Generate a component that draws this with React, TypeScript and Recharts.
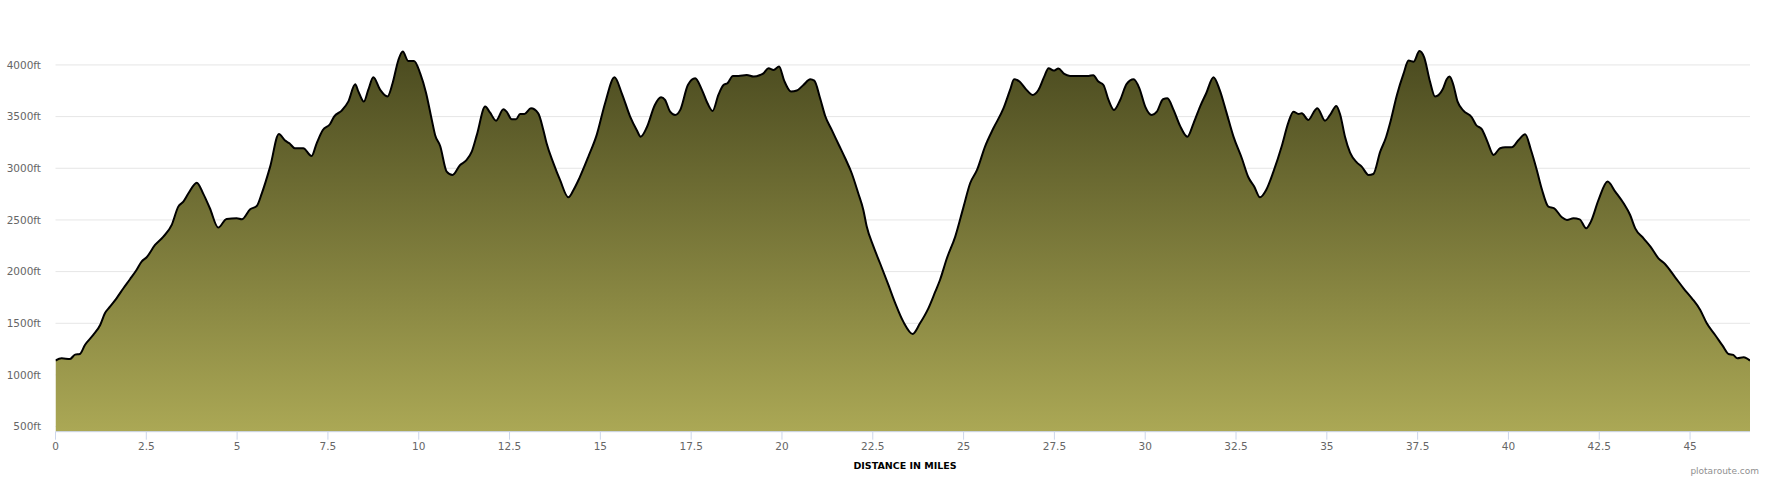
import { Area, AreaChart, CartesianGrid, XAxis, YAxis } from "recharts"

// distance along the route (miles)
const miles = [
  0, 0.17, 0.4, 0.54, 0.67, 0.81, 1.04, 1.23, 1.36, 1.5, 1.68, 1.87, 2.05, 2.23, 2.37, 2.51, 2.74, 2.97,
  3.2, 3.38, 3.52, 3.66, 3.89, 4.07, 4.25, 4.48, 4.71, 4.99, 5.13, 5.36, 5.54, 5.68, 5.91, 6.15, 6.32,
  6.44, 6.59, 6.82, 7.05, 7.19, 7.36, 7.56, 7.67, 7.88, 8.06, 8.25, 8.34, 8.49, 8.61, 8.75, 8.94, 9.14,
  9.28, 9.44, 9.56, 9.71, 9.87, 10.04, 10.2, 10.36, 10.45, 10.59, 10.77, 10.93, 11.14, 11.3, 11.46, 11.6,
  11.83, 11.96, 12.13, 12.33, 12.42, 12.56, 12.68, 12.79, 12.91, 13.09, 13.29, 13.43, 13.52, 13.71,
  13.89, 14.12, 14.26, 14.42, 14.67, 14.9, 15.13, 15.39, 15.59, 15.82, 16.0, 16.11, 16.28, 16.5, 16.67,
  16.78, 16.92, 17.06, 17.2, 17.41, 17.61, 17.79, 17.95, 18.09, 18.25, 18.39, 18.5, 18.65, 18.8, 19.03,
  19.22, 19.4, 19.49, 19.63, 19.77, 19.92, 20.06, 20.25, 20.41, 20.59, 20.78, 20.89, 21.05, 21.19,
  21.37, 21.58, 21.74, 21.92, 22.1, 22.24, 22.33, 22.52, 22.7, 22.93, 23.12, 23.34, 23.6, 23.8, 24.03,
  24.22, 24.35, 24.54, 24.77, 25.0, 25.18, 25.37, 25.59, 25.82, 26.1, 26.28, 26.39, 26.54, 26.72, 26.9,
  27.06, 27.22, 27.34, 27.48, 27.61, 27.77, 27.93, 28.2, 28.44, 28.57, 28.71, 28.85, 28.99, 29.14,
  29.31, 29.49, 29.68, 29.84, 30.0, 30.18, 30.32, 30.49, 30.61, 30.78, 30.96, 31.16, 31.33, 31.51,
  31.68, 31.88, 32.05, 32.23, 32.43, 32.66, 32.84, 33.0, 33.16, 33.33, 33.53, 33.76, 33.94, 34.08,
  34.22, 34.31, 34.49, 34.68, 34.74, 34.95, 35.09, 35.26, 35.37, 35.5, 35.64, 35.83, 35.96, 36.15,
  36.28, 36.47, 36.63, 36.74, 36.93, 37.11, 37.25, 37.39, 37.55, 37.68, 37.84, 37.98, 38.19, 38.3,
  38.38, 38.47, 38.6, 38.76, 38.99, 39.11, 39.27, 39.42, 39.59, 39.77, 39.91, 40.09, 40.28, 40.46,
  40.62, 40.78, 40.92, 41.1, 41.26, 41.47, 41.61, 41.79, 41.96, 42.14, 42.27, 42.48, 42.73, 42.94,
  43.17, 43.35, 43.49, 43.72, 43.91, 44.13, 44.31, 44.59, 44.82, 45.05, 45.28, 45.46, 45.69, 45.9,
  46.06, 46.19, 46.3, 46.47, 46.56, 46.65,
]

// elevation (ft)
const elevation = [
  1140, 1161, 1155, 1197, 1203, 1290, 1387, 1484, 1597, 1661, 1742, 1839, 1926, 2016, 2097, 2139, 2258, 2339,
  2452, 2629, 2677, 2758, 2861, 2752, 2613, 2426, 2510, 2516, 2506, 2603, 2635, 2758, 3016, 3332, 3268,
  3242, 3194, 3194, 3119, 3242, 3371, 3429, 3500, 3558, 3645, 3813, 3742, 3645, 3758, 3881, 3758, 3694,
  3823, 4048, 4129, 4039, 4039, 3919, 3732, 3468, 3323, 3216, 2968, 2935, 3032, 3074, 3161, 3323,
  3597, 3540, 3461, 3571, 3548, 3474, 3474, 3526, 3526, 3581, 3532, 3371, 3242, 3048,
  2887, 2719, 2790, 2903, 3113, 3323, 3629, 3881, 3726, 3500, 3371, 3306, 3397, 3613, 3687,
  3661, 3548, 3516, 3565, 3806, 3871, 3764, 3629, 3555, 3710, 3806, 3823, 3894, 3894, 3903,
  3887, 3903, 3919, 3968, 3952, 3984, 3848, 3742, 3752, 3806, 3861, 3848, 3677, 3506,
  3371, 3216, 3097, 2952, 2758, 2597, 2442, 2242, 2081, 1871, 1693, 1516, 1397, 1500, 1645,
  1806, 1919, 2129, 2339, 2629, 2855, 2984, 3210, 3387, 3581, 3758, 3861, 3839, 3764, 3710,
  3758, 3887, 3968, 3945, 3965, 3913, 3894, 3894, 3894, 3900, 3839, 3806, 3661, 3565,
  3661, 3816, 3861, 3774, 3597, 3516, 3548, 3668, 3677, 3565, 3410, 3306, 3435, 3597,
  3726, 3881, 3758, 3548, 3306, 3097, 2913, 2823, 2719, 2790, 2968, 3216, 3442, 3548,
  3526, 3532, 3468, 3565, 3581, 3461, 3516, 3603, 3516, 3306, 3152, 3055, 3016, 2935,
  2945, 3161, 3300, 3435, 3710, 3913, 4042, 4032, 4135, 4074, 3839, 3694, 3764, 3861,
  3887, 3823, 3645, 3558, 3494, 3419, 3377, 3258, 3129, 3194, 3203, 3203, 3274, 3329,
  3177, 2984, 2797, 2629, 2613, 2526, 2500, 2516, 2506, 2419, 2484, 2694, 2871, 2774,
  2661, 2548, 2419, 2322, 2242, 2129, 2074, 1945, 1839, 1742, 1629, 1500, 1387, 1281,
  1203, 1194, 1161, 1171, 1161, 1139,
]

const xTicks = [0, 2.5, 5, 7.5, 10, 12.5, 15, 17.5, 20, 22.5, 25, 27.5, 30, 32.5, 35, 37.5, 40, 42.5, 45]
const yTicks = [500, 1000, 1500, 2000, 2500, 3000, 3500, 4000]

const rows = miles.map((mi, i) => ({ mi, ft: elevation[i] }))

const font = "'DejaVu Sans', Verdana, sans-serif"

const App = () => {
  return (
    <div style={{ position: "absolute", left: 0, top: 0, width: 1770, height: 480, background: "#fff" }}>
      <AreaChart
        width={1770}
        height={480}
        data={rows}
        margin={{ top: 23.6, right: 20, left: 0, bottom: 18.3 }}
      >
        <defs>
          <linearGradient id="elevFill" x1="0" y1="0" x2="0" y2="1">
            <stop offset="0%" stopColor="#4a4a1f" />
            <stop offset="100%" stopColor="#aba855" />
          </linearGradient>
        </defs>
        <CartesianGrid vertical={false} horizontalValues={yTicks} stroke="#e6e6e6" />
        <XAxis
          dataKey="mi"
          type="number"
          domain={[0, 46.65]}
          ticks={xTicks}
          allowDataOverflow
          height={30}
          stroke="#ccd6eb"
          tickSize={8}
          tickMargin={3}
          tick={{ fill: "#666", fontSize: 10.5, fontFamily: font }}
        />
        <YAxis
          type="number"
          domain={[451, 4400]}
          ticks={yTicks}
          allowDataOverflow
          width={55.5}
          axisLine={false}
          tickLine={false}
          tickSize={0}
          tickMargin={14.5}
          tickFormatter={(v) => `${v}ft`}
          tick={{ fill: "#666", fontSize: 10.5, fontFamily: font }}
        />
        <Area
          type="monotone"
          dataKey="ft"
          stroke="#000"
          strokeWidth={2}
          fill="url(#elevFill)"
          fillOpacity={1}
          dot={false}
          activeDot={false}
          isAnimationActive={false}
        />
      </AreaChart>
      <div
        style={{
          position: "absolute",
          left: 905,
          top: 460,
          transform: "translateX(-50%)",
          fontFamily: font,
          fontWeight: "bold",
          fontSize: 9.5,
          lineHeight: "12px",
          color: "#000",
          whiteSpace: "nowrap",
        }}
      >
        DISTANCE IN MILES
      </div>
      <div
        style={{
          position: "absolute",
          right: 11,
          top: 465,
          fontFamily: font,
          fontSize: 9,
          lineHeight: "12px",
          color: "#909090",
          whiteSpace: "nowrap",
        }}
      >
        plotaroute.com
      </div>
    </div>
  )
}

export default App
